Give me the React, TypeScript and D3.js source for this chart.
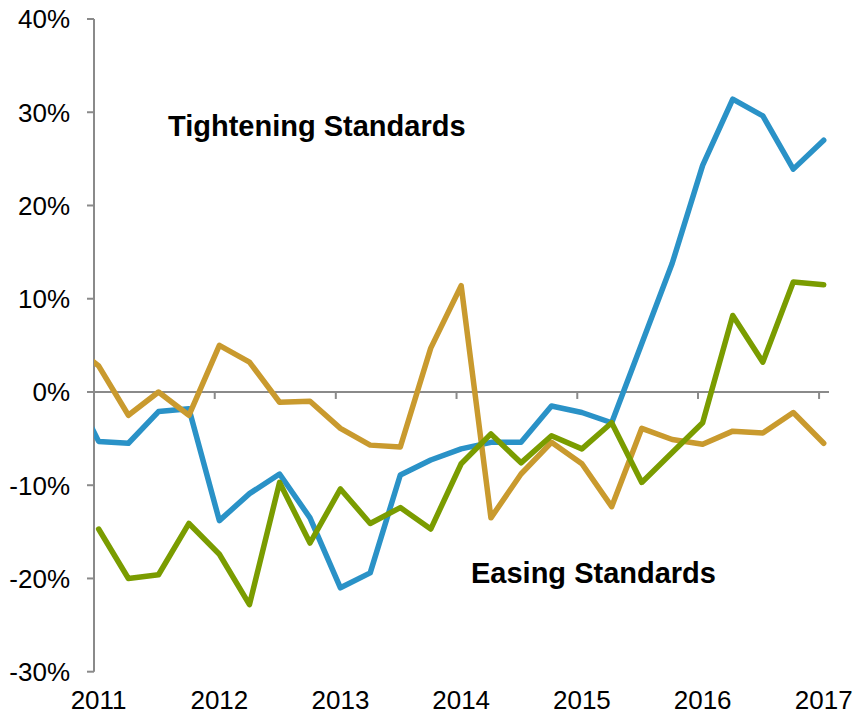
import React from 'react'
import * as d3 from 'd3'

// quarterly survey dates (first one sits left of the axis and gets clipped)
const quarters = [
  '2010-10-15',
  '2011-01-15', '2011-04-15', '2011-07-15', '2011-10-15',
  '2012-01-15', '2012-04-15', '2012-07-15', '2012-10-15',
  '2013-01-15', '2013-04-15', '2013-07-15', '2013-10-15',
  '2014-01-15', '2014-04-15', '2014-07-15', '2014-10-15',
  '2015-01-15', '2015-04-15', '2015-07-15', '2015-10-15',
  '2016-01-15', '2016-04-15', '2016-07-15', '2016-10-15',
  '2017-01-15',
]

const blueSeries = [1.2, -5.3, -5.5, -2.1, -1.8, -13.8, -10.9, -8.8, -13.5, -21.0, -19.4, -8.9, -7.3, -6.1, -5.4, -5.4, -1.5, -2.2, -3.3, 5.2, 13.8, 24.3, 31.4, 29.6, 23.9, 27.0]
const goldSeries = [5.4, 2.8, -2.5, 0, -2.5, 5.0, 3.2, -1.1, -1.0, -3.9, -5.7, -5.9, 4.7, 11.4, -13.5, -8.8, -5.4, -7.7, -12.3, -3.9, -5.1, -5.6, -4.2, -4.4, -2.2, -5.5]
const greenSeries = [null, -14.7, -20.0, -19.6, -14.1, -17.4, -22.8, -9.7, -16.2, -10.4, -14.1, -12.4, -14.7, -7.7, -4.5, -7.6, -4.7, -6.1, -3.3, -9.7, -6.5, -3.3, 8.2, 3.2, 11.8, 11.5]

const yearTicks = [2011, 2012, 2013, 2014, 2015, 2016, 2017]
const pctTicks = [-30, -20, -10, 0, 10, 20, 30, 40]

const series = [
  { name: 'blue', color: '#2A92C7', values: blueSeries },
  { name: 'gold', color: '#C99A2E', values: goldSeries },
  { name: 'green', color: '#7A9C00', values: greenSeries },
]

const W = 854
const H = 715
const axisColor = '#8A8A8A'
const font = 'Arial, "Liberation Sans", sans-serif'

export default function App() {
  const parse = d3.timeParse('%Y-%m-%d')
  const dates = quarters.map(q => parse(q) as Date)

  const x = d3.scaleTime()
    .domain([new Date(2011, 0, 1), new Date(2017, 0, 31)])
    .range([94, 829])
  const y = d3.scaleLinear().domain([-30, 40]).range([671.7, 19])

  const line = d3.line<number | null>()
    .defined(d => d !== null)
    .x((_, i) => x(dates[i]))
    .y(d => y(d as number))

  const [x0, x1] = x.range()

  return (
    <svg width={W} height={H} style={{ position: 'absolute', left: 0, top: 0, background: '#fff' }}>
      <defs>
        <clipPath id="plot">
          <rect x={x0} y={0} width={x1 - x0 + 10} height={H} />
        </clipPath>
      </defs>

      {/* y axis */}
      <line x1={x0} x2={x0} y1={y(40)} y2={y(-30)} stroke={axisColor} strokeWidth={2} />
      {pctTicks.map(t => (
        <g key={t}>
          <line x1={x0 - 7} x2={x0} y1={y(t)} y2={y(t)} stroke={axisColor} strokeWidth={2} />
          <text x={70} y={y(t)} dy="0.36em" textAnchor="end" fontFamily={font} fontSize={26} fill="#000">
            {t}%
          </text>
        </g>
      ))}

      {/* x axis on the zero line */}
      <line x1={x0} x2={x1} y1={y(0)} y2={y(0)} stroke={axisColor} strokeWidth={2} />
      {yearTicks.map(yr => (
        <g key={yr}>
          <line x1={x(new Date(yr, 0, 1))} x2={x(new Date(yr, 0, 1))} y1={y(0)} y2={y(0) + 7} stroke={axisColor} strokeWidth={2} />
          <text x={x(new Date(yr, 0, 15))} y={709} textAnchor="middle" fontFamily={font} fontSize={26} fill="#000">
            {yr}
          </text>
        </g>
      ))}

      <g clipPath="url(#plot)">
        {series.map(s => (
          <path key={s.name} d={line(s.values) ?? ''} fill="none" stroke={s.color}
            strokeWidth={5.5} strokeLinejoin="round" strokeLinecap="round" />
        ))}
      </g>

      <text x={168} y={136} fontFamily={font} fontSize={29} fontWeight="bold" fill="#000">Tightening Standards</text>
      <text x={471} y={583} fontFamily={font} fontSize={29} fontWeight="bold" fill="#000">Easing Standards</text>
    </svg>
  )
}
